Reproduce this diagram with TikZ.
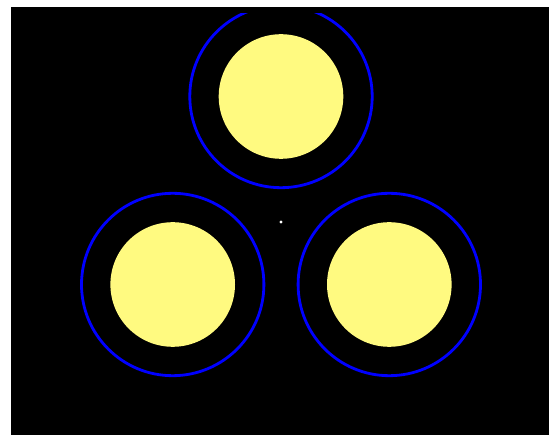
\documentclass[tikz,border=0pt]{standalone}
\usepackage{tikz}
\usetikzlibrary{positioning}

\definecolor{sunyellow}{RGB}{255,250,128}

\begin{document}
\begin{tikzpicture}[
  x=1pt,y=-1pt,
  sun/.style={circle,fill=sunyellow,draw=none,inner sep=0pt,minimum size=124.6pt},
  ring/.style={draw=blue,line width=2.8pt},
  dot/.style={circle,fill=white,inner sep=0pt,minimum size=3.2pt}
]
\fill[white] (0,0) rectangle (549,435);
\useasboundingbox (0,0) rectangle (549,435);
\fill[black] (10.5,7) rectangle (549,435);
\node[dot] (centre) at (281,222) {};
\node[sun] (top) at (281,96.5) {};
\node[sun] (left) at (172.7,284.5) {};
\node[sun] (right) at (389.3,284.5) {};
\begin{scope}
  \clip (10.5,13.3) rectangle (549,435);
  \draw[ring] (top.center) circle[radius=91.2];
  \draw[ring] (left.center) circle[radius=91.2];
  \draw[ring] (right.center) circle[radius=91.2];
\end{scope}
\end{tikzpicture}
\end{document}
